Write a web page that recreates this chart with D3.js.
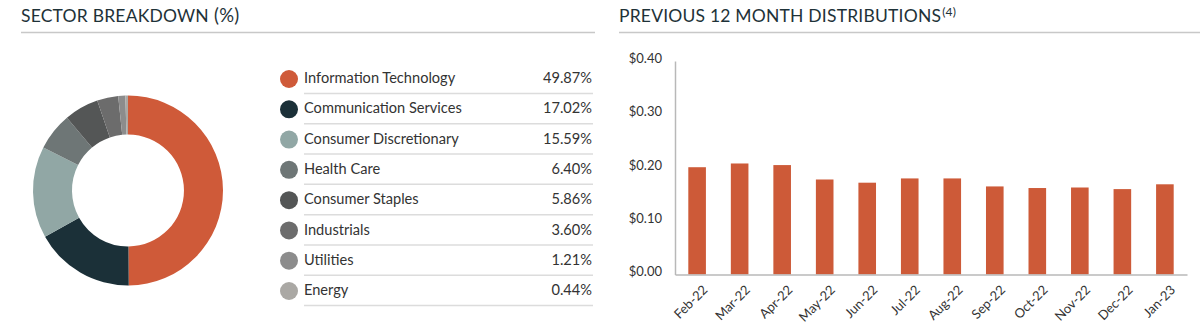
<!DOCTYPE html>
<html>
<head>
<meta charset="utf-8">
<script src="https://cdn.jsdelivr.net/npm/d3@7"></script>
<style>
  html, body { margin: 0; padding: 0; background: #ffffff; }
  svg { display: block; font-family: Lato, "Open Sans", sans-serif; }
</style>
</head>
<body>
<svg id="chart" width="1200" height="325"></svg>
<script>
// ---- Data ----
const sectors = ["Information Technology", "Communication Services", "Consumer Discretionary", "Health Care", "Consumer Staples", "Industrials", "Utilities", "Energy"];
const sectorValues = [49.87, 17.02, 15.59, 6.40, 5.86, 3.60, 1.21, 0.44];
const sectorColors = ["#cf5a39", "#1b3038", "#91a7a5", "#6e7676", "#545656", "#6c6c6c", "#8c8c8c", "#aaa8a4"];

const months = ["Feb-22", "Mar-22", "Apr-22", "May-22", "Jun-22", "Jul-22", "Aug-22", "Sep-22", "Oct-22", "Nov-22", "Dec-22", "Jan-23"];
const distributions = [0.201, 0.208, 0.205, 0.178, 0.172, 0.180, 0.180, 0.165, 0.162, 0.163, 0.160, 0.169];
const yTicks = [0, 0.1, 0.2, 0.3, 0.4];

const leftTitle = "SECTOR BREAKDOWN";
const leftTitleSuffix = "(%)";
const rightTitle = "PREVIOUS 12 MONTH DISTRIBUTIONS";
const rightTitleSup = "(4)";

// ---- Setup ----
const svg = d3.select("#chart");
const titleColor = "#1e3238";
const textColor = "#333333";

// Titles and rules
const lt = svg.append("text").attr("x", 21).attr("y", 22)
  .attr("font-size", 17.5).attr("fill", titleColor).attr("letter-spacing", 0.2);
lt.append("tspan").text(leftTitle);
lt.append("tspan").attr("x", 214).attr("font-size", 18.5).text(leftTitleSuffix);
svg.append("line").attr("x1", 21).attr("x2", 595).attr("y1", 32.5).attr("y2", 32.5)
  .attr("stroke", "#c8c8c8").attr("stroke-width", 1.5);

const rt = svg.append("text").attr("x", 619).attr("y", 22)
  .attr("font-size", 17.5).attr("fill", titleColor).attr("letter-spacing", 0.2);
rt.append("tspan").text(rightTitle);
rt.append("tspan").attr("font-size", 12).attr("dx", 1).attr("dy", -6).text(rightTitleSup);
svg.append("line").attr("x1", 619).attr("x2", 1200).attr("y1", 32.5).attr("y2", 32.5)
  .attr("stroke", "#c8c8c8").attr("stroke-width", 1.5);

// ---- Donut ----
const pie = d3.pie().sort(null).value(d => d);
const arc = d3.arc().innerRadius(56).outerRadius(95);
const donut = svg.append("g").attr("transform", "translate(128,190.5)");
donut.selectAll("path").data(pie(sectorValues)).join("path")
  .attr("d", arc)
  .attr("fill", (d, i) => sectorColors[i]);

// ---- Legend ----
const legendY = d3.scalePoint().domain(sectors).range([78, 290]);
const legend = svg.append("g");
const rows = legend.selectAll("g").data(sectors).join("g")
  .attr("transform", d => `translate(0,${legendY(d)})`);
rows.append("circle").attr("cx", 289).attr("cy", 1).attr("r", 9)
  .attr("fill", (d, i) => sectorColors[i]);
rows.append("text").attr("x", 304).attr("y", 0).attr("dy", "0.35em")
  .attr("font-size", 14.6).attr("fill", textColor).text(d => d);
rows.append("text").attr("x", 592).attr("y", 0).attr("dy", "0.35em")
  .attr("text-anchor", "end").attr("font-size", 14.6).attr("fill", textColor)
  .text((d, i) => sectorValues[i].toFixed(2) + "%");
rows.append("line").attr("x1", 304).attr("x2", 593).attr("y1", 15.5).attr("y2", 15.5)
  .attr("stroke", "#dcdcdc").attr("stroke-width", 1.5);

// ---- Bar chart ----
const x = d3.scaleBand().domain(months).range([675, 1187])
  .paddingInner(0.586).paddingOuter(0.313);
const y = d3.scaleLinear().domain([0, 0.4]).range([274.5, 61]);

const bars = svg.append("g");
bars.selectAll("rect").data(distributions).join("rect")
  .attr("x", (d, i) => x(months[i]))
  .attr("width", x.bandwidth())
  .attr("y", d => y(d))
  .attr("height", d => y(0) - y(d))
  .attr("fill", "#cd5a38");

// Y axis
const yAxis = svg.append("g").attr("transform", "translate(675,0)")
  .call(d3.axisLeft(y).tickValues(yTicks).tickSize(0).tickPadding(13)
    .tickFormat(d => "$" + d.toFixed(2)));
yAxis.select(".domain").attr("stroke", "#b8b8b8").attr("stroke-width", 1.5);
yAxis.selectAll("text").attr("font-size", 13).attr("fill", textColor)
  .attr("font-family", "Lato, sans-serif").attr("dy", "0.1em");

// X axis
const xAxis = svg.append("g").attr("transform", `translate(0,${y(0)})`)
  .call(d3.axisBottom(x).tickSize(0).tickPadding(0));
xAxis.select(".domain").attr("stroke", "#b8b8b8").attr("stroke-width", 1.5);
xAxis.selectAll("text")
  .attr("font-size", 13).attr("fill", textColor).attr("font-family", "Lato, sans-serif")
  .attr("text-anchor", "end")
  .attr("dy", "0.35em")
  .attr("transform", "translate(8,13) rotate(-45)");
</script>
</body>
</html>
